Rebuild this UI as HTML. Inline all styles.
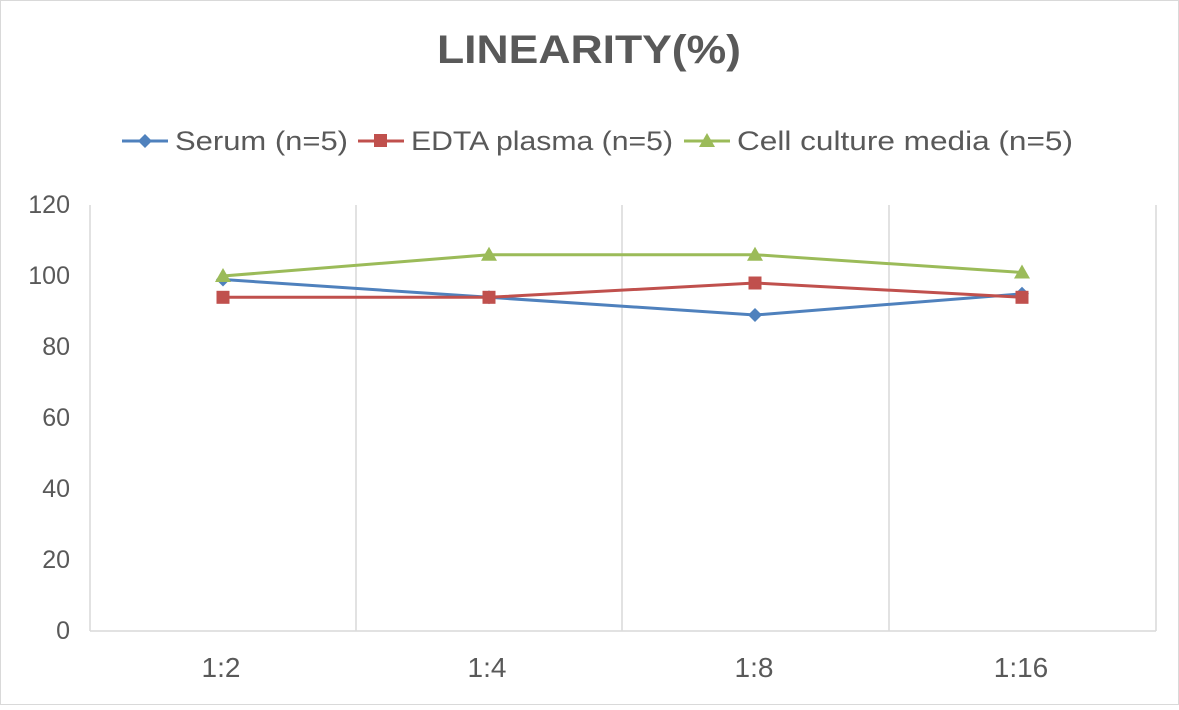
<!DOCTYPE html>
<html><head><meta charset="utf-8"><style>body{margin:0;background:#fff}</style></head><body>
<svg width="1179" height="705" xmlns="http://www.w3.org/2000/svg" font-family="Liberation Sans, sans-serif">
<rect x="0.5" y="0.5" width="1178" height="704" fill="#fff" stroke="#d9d9d9"/>
<text x="589" y="63" text-anchor="middle" font-size="40" font-weight="bold" fill="#595959" textLength="304" lengthAdjust="spacingAndGlyphs">LINEARITY(%)</text>
<g font-size="27" fill="#595959">
<line x1="122" y1="141" x2="168" y2="141" stroke="#4f81bd" stroke-width="3"/><path d="M145 134l7 7-7 7-7-7z" fill="#4f81bd"/>
<text x="175" y="150" textLength="173" lengthAdjust="spacingAndGlyphs">Serum (n=5)</text>
<line x1="358" y1="141" x2="404" y2="141" stroke="#c0504d" stroke-width="3"/><rect x="374" y="134" width="13" height="13" fill="#c0504d"/>
<text x="411" y="150" textLength="262" lengthAdjust="spacingAndGlyphs">EDTA plasma (n=5)</text>
<line x1="684" y1="141" x2="730" y2="141" stroke="#9bbb59" stroke-width="3"/><path d="M707 133l8 14h-16z" fill="#9bbb59"/>
<text x="737" y="150" textLength="336" lengthAdjust="spacingAndGlyphs">Cell culture media (n=5)</text>
</g>
<g stroke="#d9d9d9" stroke-width="1.5">
<line x1="90" y1="631" x2="1156" y2="631"/>
<line x1="90" y1="205" x2="90" y2="631"/>
<line x1="356" y1="205" x2="356" y2="631"/>
<line x1="622" y1="205" x2="622" y2="631"/>
<line x1="889" y1="205" x2="889" y2="631"/>
<line x1="1156" y1="205" x2="1156" y2="631"/>
</g>
<g font-size="25" fill="#595959" text-anchor="end">
<text x="70" y="639">0</text><text x="70" y="568">20</text><text x="70" y="497">40</text><text x="70" y="426">60</text><text x="70" y="355">80</text><text x="70" y="284">100</text><text x="70" y="213">120</text>
</g>
<g font-size="28" fill="#595959" text-anchor="middle">
<text x="221" y="677">1:2</text><text x="487" y="677">1:4</text><text x="754" y="677">1:8</text><text x="1021" y="677">1:16</text>
</g>
<polyline points="223,279.5 489,297.3 755,315 1022,293.8" fill="none" stroke="#4f81bd" stroke-width="3"/>
<g fill="#4f81bd"><path d="M223 272.5l7 7-7 7-7-7z"/><path d="M489 290.3l7 7-7 7-7-7z"/><path d="M755 308l7 7-7 7-7-7z"/><path d="M1022 286.8l7 7-7 7-7-7z"/></g>
<polyline points="223,297.3 489,297.3 755,283 1022,297.3" fill="none" stroke="#c0504d" stroke-width="3"/>
<g fill="#c0504d"><rect x="216.5" y="290.8" width="13" height="13"/><rect x="482.5" y="290.8" width="13" height="13"/><rect x="748.5" y="276.5" width="13" height="13"/><rect x="1015.5" y="290.8" width="13" height="13"/></g>
<polyline points="223,276 489,254.7 755,254.7 1022,272.5" fill="none" stroke="#9bbb59" stroke-width="3"/>
<g fill="#9bbb59"><path d="M223 268l8 14h-16z"/><path d="M489 246.7l8 14h-16z"/><path d="M755 246.7l8 14h-16z"/><path d="M1022 264.5l8 14h-16z"/></g>
</svg>
</body></html>
